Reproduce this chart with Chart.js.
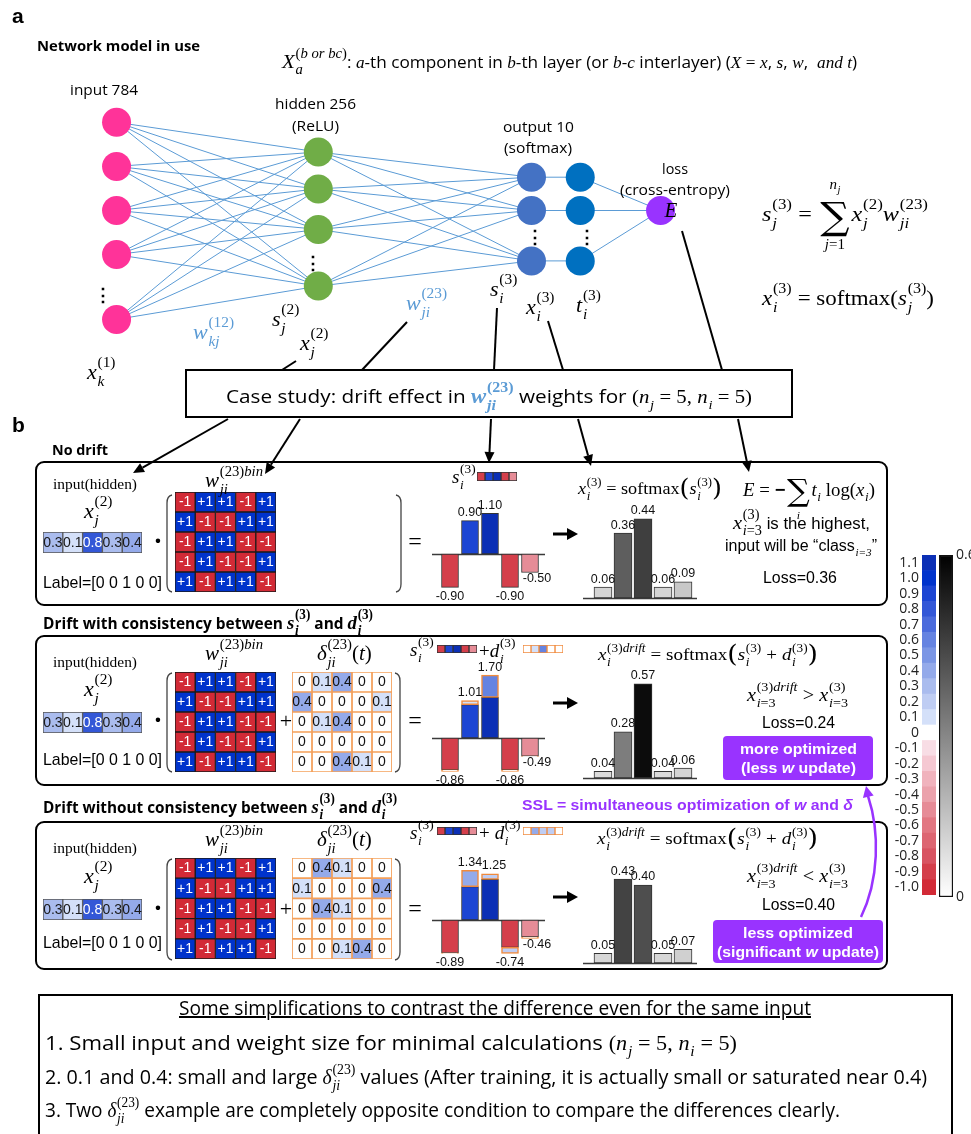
<!DOCTYPE html>
<html>
<head>
<meta charset="utf-8">
<title>Drift effect in w(23) weights</title>
<script src="https://cdn.jsdelivr.net/npm/chart.js@4.4.1/dist/chart.umd.min.js"></script>
<style>
  html, body { margin:0; padding:0; background:#fff; }
  #page { position:relative; width:971px; height:1134px; overflow:hidden; background:#fff; }
  canvas { position:absolute; }
  .box { position:absolute; box-sizing:border-box; border:2px solid #000; }
  .panel { border-radius:9px; }
  .badge { position:absolute; background:#9933ff; border-radius:4px; }
  .t { position:absolute; white-space:nowrap; line-height:1.2; color:#000; font-family:'Open Sans',sans-serif; }
  .sans { font-family:'Liberation Sans',Arial,sans-serif; }
  .serif { font-family:'Liberation Serif','DejaVu Serif',serif; }
  .mi { font-family:'Liberation Serif','DejaVu Serif',serif; font-style:italic; }
  .mr { font-family:'Liberation Serif','DejaVu Serif',serif; font-style:normal; }
  .big { font-size:122%; }
  .mid { font-size:110%; }
  .ss { display:inline-block; font-size:70%; line-height:0; vertical-align:baseline; margin-left:0.05em; }
  .ss > span { display:block; position:relative; white-space:nowrap; }
  .ss > .sp { top:-0.74em; }
  .ss > .sb { top:0.45em; }
  .op { display:inline-block; line-height:0; text-align:center; margin:0 0.08em; }
  .op > span { display:block; position:relative; white-space:nowrap; }
  .op > .sig { font-size:170%; top:-0.03em; font-family:'DejaVu Serif',serif; font-style:normal; }
  .op > .lt { font-size:62%; top:-2.25em; }
  .op > .lb { font-size:62%; top:2.05em; }
  .bp { font-size:140%; line-height:0; position:relative; top:0.06em; font-family:'DejaVu Serif',serif; }
  svg { position:absolute; left:0; top:0; }
</style>
</head>
<body>
<div id="page"></div>
<script>
// ---------------- values ----------------
const hiddenInput = [0.3, 0.1, 0.8, 0.3, 0.4];
const classLabel = [0, 0, 1, 0, 0];
const weightsBin = [
  [-1,  1,  1, -1,  1],
  [ 1, -1, -1,  1,  1],
  [-1,  1,  1, -1, -1],
  [-1,  1, -1, -1,  1],
  [ 1, -1,  1,  1, -1]
];
const driftConsistent = [
  [0,   0.1, 0.4, 0,   0  ],
  [0.4, 0,   0,   0,   0.1],
  [0,   0.1, 0.4, 0,   0  ],
  [0,   0,   0,   0,   0  ],
  [0,   0,   0.4, 0.1, 0  ]
];
const driftInconsistent = [
  [0,   0.4, 0.1, 0,   0  ],
  [0.1, 0,   0,   0,   0.4],
  [0,   0.4, 0.1, 0,   0  ],
  [0,   0,   0,   0,   0  ],
  [0,   0,   0.1, 0.4, 0  ]
];
const sNoDrift = [-0.90, 0.90, 1.10, -0.90, -0.50];
const dConsistent = [0.04, 0.11, 0.60, 0.04, 0.01];
const sdConsistent = [-0.86, 1.01, 1.70, -0.86, -0.49];
const dInconsistent = [0.01, 0.44, 0.15, 0.16, 0.04];
const sdInconsistent = [-0.89, 1.34, 1.25, -0.74, -0.46];
const softNoDrift = [0.06, 0.36, 0.44, 0.06, 0.09];
const softConsistent = [0.04, 0.28, 0.57, 0.04, 0.06];
const softInconsistent = [0.05, 0.43, 0.40, 0.05, 0.07];
const lossNoDrift = 0.36, lossConsistent = 0.24, lossInconsistent = 0.40;
const scaleTicks = ['1.1','1.0','0.9','0.8','0.7','0.6','0.5','0.4','0.3','0.2','0.1','0',
                    '-0.1','-0.2','-0.3','-0.4','-0.5','-0.6','-0.7','-0.8','-0.9','-1.0'];
const scaleColors = ['#0b2fb5','#0033cc','#1c45d3','#3357d7','#4b6bdc','#6583e1','#7b96e5','#94aaea',
                     '#aabcee','#bfcdf3','#d4e0f9','#ffffff','#f8dde5','#f5c8d2','#f0b3bd','#eba2ac',
                     '#e68c97','#e27782','#dd6672','#d85462','#d43f4b','#d22a36'];
const probTicks = [0, 0.6];

// network layout: layer columns and node rows (diagram units)
const layerCol = [104, 315, 538, 589, 673];
const nodeRows = [[112, 161, 210, 259, 331], [145, 186, 231, 294], [173, 210, 266], [173, 210, 266], [210]];
const layerColors = ['#ff3399', '#70ad47', '#4472c4', '#0070c0', '#9933ff'];

// ---------------- helpers ----------------
Chart.defaults.animation = false;
Chart.defaults.responsive = false;
Chart.defaults.maintainAspectRatio = false;
Chart.defaults.events = [];
Chart.defaults.plugins.legend.display = false;
Chart.defaults.plugins.tooltip.enabled = false;
Chart.defaults.font.family = "'Liberation Sans', Arial, sans-serif";

const page = document.getElementById('page');

function colorFor(v) {
  const idx = Math.min(21, Math.max(0, 11 - Math.round(v * 10)));
  return scaleColors[idx];
}
function gray(v) {
  const g = Math.round(235 * (1 - v / 0.6));
  return `rgb(${g},${g},${g})`;
}
function makeCanvas(x, y, w, h) {
  const c = document.createElement('canvas');
  c.width = w; c.height = h;
  c.style.left = x + 'px'; c.style.top = y + 'px';
  c.style.width = w + 'px'; c.style.height = h + 'px';
  page.appendChild(c);
  return c;
}
function div(cls, x, y, w, h) {
  const d = document.createElement('div');
  d.className = cls;
  Object.assign(d.style, {left: x + 'px', top: y + 'px', width: w + 'px', height: h + 'px'});
  page.appendChild(d);
  return d;
}
// value range of an axis given the pixel extent of the canvas and a reference pixel
function hRange(lo, hi, p0, k) { return {min: (lo - p0) / k, max: (hi - p0) / k}; }
function vRange(top, bottom, zeroPx, k) { return {min: (zeroPx - bottom) / k, max: (zeroPx - top) / k}; }

// heat-map cells: stacked horizontal bars, one dataset per column
function cellText(values, o) {
  return { id: 'cellText', afterDatasetsDraw(chart) {
    const ctx = chart.ctx;
    ctx.save();
    ctx.font = o.font || '14px "Liberation Sans", Arial, sans-serif';
    ctx.textAlign = 'center'; ctx.textBaseline = 'middle';
    chart.data.datasets.forEach((ds, c) => {
      chart.getDatasetMeta(c).data.forEach((bar, r) => {
        const v = values[r][c];
        ctx.fillStyle = o.textColor(v);
        ctx.fillText(o.text(v), (bar.x + bar.base) / 2, bar.y + 0.5);
      });
    });
    ctx.restore();
  }};
}
function gridChart(x, y, w, h, values, o) {
  const cols = values[0].length;
  const datasets = [];
  for (let c = 0; c < cols; c++) {
    datasets.push({
      data: values.map(() => 1),
      backgroundColor: values.map(r => o.fill(r[c])),
      borderColor: o.border, borderWidth: o.bw, borderSkipped: false,
      barPercentage: 1, categoryPercentage: 1
    });
  }
  return new Chart(makeCanvas(x, y, w, h), {
    type: 'bar',
    data: { labels: values.map((_, i) => 'r' + i), datasets },
    options: {
      indexAxis: 'y', layout: {padding: 0},
      scales: { x: {stacked: true, display: false, min: 0, max: cols},
                y: {stacked: true, display: false} }
    },
    plugins: o.text ? [cellText(values, o)] : []
  });
}
function baseLine(from, to) {
  return { id: 'baseLine', beforeDatasetsDraw(chart) {
    const {ctx, scales: {x, y}} = chart;
    const py = Math.round(y.getPixelForValue(0)) + 0.5;
    ctx.save();
    ctx.strokeStyle = '#3a3a3a'; ctx.lineWidth = 1.5;
    ctx.beginPath(); ctx.moveTo(x.getPixelForValue(from), py); ctx.lineTo(x.getPixelForValue(to), py); ctx.stroke();
    ctx.restore();
  }};
}
function valueLabels(values, endOf, place) {
  return { id: 'valueLabels', afterDatasetsDraw(chart) {
    const {ctx, scales: {x, y}} = chart;
    ctx.save();
    ctx.font = '12.5px "Liberation Sans", Arial, sans-serif';
    ctx.fillStyle = '#111'; ctx.textAlign = 'center'; ctx.textBaseline = 'middle';
    values.forEach((v, i) => {
      const [pos, dx, dy] = place[i];
      const px = x.getPixelForValue(i) + dx;
      const e = y.getPixelForValue(endOf(i));
      const py = pos === 'above' ? e - 8 + dy : e + 9 + dy;
      ctx.fillText(v.toFixed(2), px, py);
    });
    ctx.restore();
  }};
}
// s (and s + d) bars: base bar coloured by s, drift segment coloured by d
function sumChart(box, s, total, d, place, zeroPx, k) {
  const tot = total || s;
  const baseEnd = tot.map((t, i) => Math.abs(s[i]) < Math.abs(t) ? s[i] : t);
  const datasets = [{
    data: tot.map((t, i) => ({x: i, y: [0, baseEnd[i]]})),
    backgroundColor: s.map(colorFor), borderColor: '#333', borderWidth: 1, borderSkipped: false,
    barThickness: 17, grouped: false, order: 2
  }];
  if (d) datasets.push({
    data: tot.map((t, i) => ({x: i, y: [s[i], t]})),
    backgroundColor: d.map(colorFor), borderColor: '#f08a3c', borderWidth: 1.5, borderSkipped: false,
    barThickness: 17, grouped: false, order: 1
  });
  const xr = hRange(box.x, box.x + box.w, 450, 20);
  const yr = vRange(box.y, box.y + box.h, zeroPx, k);
  return new Chart(makeCanvas(box.x, box.y, box.w, box.h), {
    type: 'bar', data: {datasets},
    options: { layout: {padding: 0}, scales: {
      x: {type: 'linear', display: false, min: xr.min, max: xr.max, offset: false},
      y: {display: false, min: yr.min, max: yr.max} } },
    plugins: [baseLine(-0.9, 4.75),
              valueLabels(tot, i => tot[i] < 0 ? Math.min(s[i], tot[i]) : Math.max(s[i], tot[i]), place)]
  });
}
// softmax output bars
function softChart(box, p, zeroPx, k) {
  const xr = hRange(box.x, box.x + box.w, 603, 20);
  const yr = vRange(box.y, box.y + box.h, zeroPx, k);
  return new Chart(makeCanvas(box.x, box.y, box.w, box.h), {
    type: 'bar',
    data: { datasets: [{ data: p.map((v, i) => ({x: i, y: v})), backgroundColor: p.map(gray),
      borderColor: '#333', borderWidth: 1, borderSkipped: false, barThickness: 18 }] },
    options: { layout: {padding: 0}, scales: {
      x: {type: 'linear', display: false, min: xr.min, max: xr.max, offset: false},
      y: {display: false, min: yr.min, max: yr.max} } },
    plugins: [baseLine(-1.0, 4.7), valueLabels(p, i => p[i], p.map(() => ['above', 0, 0]))]
  });
}

// ---------------- frames ----------------
div('box', 185, 369, 608, 49);
div('box panel', 35, 461, 853, 145);
div('box panel', 35, 635, 853, 151);
div('box panel', 35, 821, 853, 149);
div('box', 38, 994, 915, 170);
div('badge', 723, 736, 150, 44);
div('badge', 713, 920, 170, 43);

// ---------------- network ----------------
(function () {
  const datasets = [];
  layerCol.forEach((cx, l) => {
    datasets.push({ data: nodeRows[l].map(y => ({x: cx, y})), pointRadius: 14.5, pointBackgroundColor: layerColors[l],
      pointBorderWidth: 0, showLine: false, order: 0 });
  });
  const edge = (a, b) => datasets.push({ data: [a, b], showLine: true, pointRadius: 0,
    borderColor: '#5b9bd5', borderWidth: 1, order: 1 });
  const pt = (l, r) => ({x: layerCol[l], y: nodeRows[l][r]});
  [[0, 1], [1, 2]].forEach(([a, b]) => nodeRows[a].forEach((_, i) => nodeRows[b].forEach((_, j) => edge(pt(a, i), pt(b, j)))));
  nodeRows[2].forEach((_, i) => edge(pt(2, i), pt(3, i)));
  nodeRows[3].forEach((_, i) => edge(pt(3, i), pt(4, 0)));
  new Chart(makeCanvas(60, 70, 660, 290), {
    type: 'scatter', data: {datasets},
    options: { layout: {padding: 0}, scales: {
      x: {type: 'linear', display: false, min: 60, max: 720},
      y: {type: 'linear', display: false, min: 70, max: 360, reverse: true} } }
  });
})();

// ---------------- panel charts ----------------
const inputOpts = { fill: colorFor, border: '#555', bw: 1, text: v => v.toFixed(1),
  textColor: v => v > 0.6 ? '#ffffff' : '#1a1a1a' };
const weightOpts = { fill: colorFor, border: '#1a1a1a', bw: 1, text: v => v > 0 ? '+1' : '-1', textColor: () => '#ffffff' };
const driftOpts = { fill: colorFor, border: '#f4a05a', bw: 1.2, text: v => v === 0 ? '0' : v.toFixed(1), textColor: () => '#111' };
const stripS = { fill: colorFor, border: '#333', bw: 1 };
const stripD = { fill: colorFor, border: '#f08a3c', bw: 1 };

// no drift
gridChart(43, 532, 99, 21, [hiddenInput], inputOpts);
gridChart(175, 492, 101, 100, weightsBin, weightOpts);
gridChart(477, 472, 40, 9, [sNoDrift], stripS);
sumChart({x: 425, y: 490, w: 130, h: 116}, sNoDrift, null, null,
  [['below', 0, 0], ['above', 0, 0], ['above', 0, 0], ['below', 0, 0], ['below', 7, -3]], 554, 37);
softChart({x: 575, y: 500, w: 130, h: 106}, softNoDrift, 598, 180);

// drift with consistency
gridChart(43, 712, 99, 21, [hiddenInput], inputOpts);
gridChart(175, 672, 101, 100, weightsBin, weightOpts);
gridChart(292, 672, 100, 100, driftConsistent, driftOpts);
gridChart(437, 645, 40, 8, [sNoDrift], stripS);
gridChart(523, 645, 40, 8, [dConsistent], stripD);
sumChart({x: 425, y: 655, w: 130, h: 133}, sNoDrift, sdConsistent, dConsistent,
  [['below', 0, 0], ['above', 0, 0], ['above', 0, 0], ['below', 0, 0], ['below', 7, -3]], 738, 37);
softChart({x: 575, y: 665, w: 130, h: 118}, softConsistent, 778, 165);

// drift without consistency
gridChart(43, 899, 99, 21, [hiddenInput], inputOpts);
gridChart(175, 858, 101, 101, weightsBin, weightOpts);
gridChart(292, 858, 100, 101, driftInconsistent, driftOpts);
gridChart(437, 827, 40, 8, [sNoDrift], stripS);
gridChart(523, 827, 40, 8, [dInconsistent], stripD);
sumChart({x: 425, y: 845, w: 130, h: 125}, sNoDrift, sdInconsistent, dInconsistent,
  [['below', 0, 0], ['above', 0, 0], ['above', 4, 0], ['below', 0, 0], ['below', 7, -3]], 920, 37);
softChart({x: 575, y: 855, w: 130, h: 112}, softInconsistent, 963, 195);

// ---------------- colour bars ----------------
new Chart(makeCanvas(880, 555, 56, 340), {
  type: 'bar',
  data: { labels: scaleTicks, datasets: [{ data: scaleTicks.map(() => 1), backgroundColor: scaleColors,
    borderWidth: 0, barPercentage: 1, categoryPercentage: 1 }] },
  options: { indexAxis: 'y', layout: {padding: 0}, scales: {
    x: {display: false, min: 0, max: 1},
    y: { position: 'left', grid: {display: false, drawTicks: false}, border: {display: false},
         ticks: {autoSkip: false, padding: 3, color: '#222', font: {family: "'Open Sans'", size: 14}},
         afterFit(s) { s.width = 42; s.paddingTop = 0; s.paddingBottom = 0; } } } }
});
new Chart(makeCanvas(939, 548, 32, 356), {
  type: 'bar',
  data: { labels: [''], datasets: [{ data: [probTicks[1]], borderColor: '#111', borderWidth: 1.5, borderSkipped: false,
    barPercentage: 1, categoryPercentage: 1,
    backgroundColor(ctx) {
      const ca = ctx.chart.chartArea;
      if (!ca) return '#888';
      const g = ctx.chart.ctx.createLinearGradient(0, ca.bottom, 0, ca.top);
      g.addColorStop(0, '#ffffff'); g.addColorStop(1, '#000000');
      return g;
    } }] },
  options: { layout: {padding: {top: 7, bottom: 7, left: 0, right: 0}}, scales: {
    x: {display: false},
    y: { position: 'right', min: probTicks[0], max: probTicks[1], grid: {display: false, drawTicks: false}, border: {display: false},
         afterBuildTicks(s) { s.ticks = probTicks.map(v => ({value: v})); },
         ticks: {padding: 3, color: '#222', font: {family: "'Open Sans'", size: 14}, callback: v => v === 0 ? '0' : v.toFixed(1)},
         afterFit(s) { s.width = 18; s.paddingTop = 0; s.paddingBottom = 0; } } } }
});

// ---------------- leader lines, arrows, brackets ----------------
function arrow(x1, y1, x2, y2, w, hl, hw, color) {
  const dx = x2 - x1, dy = y2 - y1, L = Math.hypot(dx, dy), ux = dx / L, uy = dy / L;
  const bx = x2 - ux * hl, by = y2 - uy * hl, px = -uy * hw / 2, py = ux * hw / 2;
  return `<line x1="${x1}" y1="${y1}" x2="${bx}" y2="${by}" stroke="${color}" stroke-width="${w}"/>` +
         `<polygon points="${x2},${y2} ${bx + px},${by + py} ${bx - px},${by - py}" fill="${color}"/>`;
}
function parens(xl, xr, y1, y2) {
  const st = 'fill="none" stroke="#444" stroke-width="1.3"';
  return `<path ${st} d="M${xl + 5},${y1} Q${xl},${y1 + 1} ${xl},${y1 + 8} L${xl},${y2 - 8} Q${xl},${y2 - 1} ${xl + 5},${y2}"/>` +
         `<path ${st} d="M${xr - 5},${y1} Q${xr},${y1 + 1} ${xr},${y1 + 8} L${xr},${y2 - 8} Q${xr},${y2 - 1} ${xr - 5},${y2}"/>`;
}
let svg = '';
[[296, 361, 282, 370], [407, 322, 362, 370], [497, 308, 494, 370], [548, 321, 563, 370], [682, 231, 722, 370]]
  .forEach(([a, b, c, d]) => { svg += `<line x1="${a}" y1="${b}" x2="${c}" y2="${d}" stroke="#000" stroke-width="2"/>`; });
[[228, 419, 133, 473], [300, 419, 265, 474], [491, 419, 489, 463], [578, 419, 591, 466], [738, 419, 749, 472]]
  .forEach(([a, b, c, d]) => { svg += arrow(a, b, c, d, 2, 11, 10, '#000'); });
[534, 703, 897].forEach(y => { svg += arrow(553, y, 578, y, 3, 11, 12, '#000'); });
svg += parens(167, 401, 495, 592) + parens(167, 400, 673, 772) + parens(167, 400, 859, 960);
svg += `<path d="M861,917 C879,880 880,832 868,796" fill="none" stroke="#9933ff" stroke-width="2.5"/>`;
svg += arrow(869, 800, 866, 786, 0.1, 11, 11, '#9933ff');
page.insertAdjacentHTML('beforeend', `<svg width="971" height="1134" viewBox="0 0 971 1134">${svg}</svg>`);

// ---------------- text ----------------
const I = s => `<span class="mi">${s}</span>`;
const R = s => `<span class="mr">${s}</span>`;
const SS = (sup, sub) => `<span class="ss"><span class="sp mr">${sup}</span><span class="sb mi">${sub}</span></span>`;
const V = (base, sup, sub) => I(base) + SS(sup, sub);
const SUM = (top, bot) => `<span class="op"><span class="lt mi">${top}</span><span class="sig">∑</span><span class="lb mi">${bot}</span></span>`;
const BIG = s => `<span class="big">${s}</span>`;

function T(x, y, html, o = {}) {
  const el = document.createElement('div');
  el.className = 't ' + (o.cls || '');
  el.innerHTML = html;
  el.dataset.x = x; el.dataset.y = y; el.dataset.a = o.a || 'l';
  if (o.w) el.dataset.w = o.w;
  if (o.fs) el.style.fontSize = o.fs + 'px';
  if (o.color) el.style.color = o.color;
  if (o.bold) el.style.fontWeight = 'bold';
  page.appendChild(el);
  return el;
}

T(12, 16, 'a', {cls: 'sans', fs: 21, bold: true});
T(37, 45, 'Network model in use', {fs: 15, bold: true, w: 163});
T(282, 61, `${BIG(V('X', '(<i>b or bc</i>)', 'a'))}: ${I('a')}-th component in ${I('b')}-th layer (or ${I('b')}-${I('c')} interlayer) (${I('X')} ${R('=')} ${I('x')}, ${I('s')}, ${I('w')},&nbsp; ${I('and t')})`, {fs: 16, w: 575});

T(104, 89, 'input 784', {a: 'c', fs: 15, w: 68});
T(315, 103, 'hidden 256', {a: 'c', fs: 15, w: 81});
T(315, 125, '(ReLU)', {a: 'c', fs: 15, w: 47});
T(538, 126, 'output 10', {a: 'c', fs: 15, w: 71});
T(538, 147, '(softmax)', {a: 'c', fs: 15, w: 68});
T(675, 168, 'loss', {a: 'c', fs: 15, w: 26});
T(675, 189, '(cross-entropy)', {a: 'c', fs: 15, w: 110});
T(671, 210, I('E'), {a: 'c', fs: 21});
[[103, 296], [313, 264], [535, 238], [587, 238]].forEach(([x, y]) => T(x, y, '⋮', {a: 'c', fs: 18, cls: 'sans', bold: true}));

T(87, 371, V('x', '(1)', 'k'), {fs: 22});
T(193, 331, V('w', '(12)', 'kj'), {fs: 22, color: '#5b9bd5'});
T(272, 318, V('s', '(2)', 'j'), {fs: 22});
T(300, 342, V('x', '(2)', 'j'), {fs: 22});
T(406, 302, V('w', '(23)', 'ji'), {fs: 22, color: '#5b9bd5'});
T(490, 288, V('s', '(3)', 'i'), {fs: 22});
T(526, 306, V('x', '(3)', 'i'), {fs: 22});
T(576, 304, V('t', '(3)', 'i'), {fs: 22});

T(762, 213, `${V('s', '(3)', 'j')} ${R('=')} ${SUM(I('n') + SS('', 'j'), 'j' + R('=1'))}${V('x', '(2)', 'j')}${V('w', '(23)', 'ji')}`, {fs: 22, w: 166});
T(762, 297, `${V('x', '(3)', 'i')} ${R('= softmax(')}${V('s', '(3)', 'j')}${R(')')}`, {fs: 22, w: 172});

T(489, 396, `Case study: drift effect in <span class="mid" style="color:#5b9bd5;font-weight:bold">${V('w', '(23)', 'ji')}</span> weights for ${R('(')}${I('n')}${SS('', 'j')} ${R('= 5,')} ${I('n')}${SS('', 'i')} ${R('= 5)')}`, {a: 'c', fs: 19, w: 526});

T(12, 425, 'b', {cls: 'sans', fs: 21, bold: true});

// panel titles
T(52, 449, 'No drift', {fs: 15, bold: true, w: 56});
T(43, 622, `Drift with consistency between ${BIG(V('s', '(3)', 'i'))} and ${BIG(V('d', '(3)', 'i'))}`, {fs: 16, bold: true, w: 330});
T(43, 806, `Drift without consistency between ${BIG(V('s', '(3)', 'i'))} and ${BIG(V('d', '(3)', 'i'))}`, {fs: 16, bold: true, w: 354});

// shared left part of each panel
const labelText = 'Label=[' + classLabel.join(' ') + ']';
[[484, 510, 583, 541, 480], [662, 688, 760, 720, 653], [848, 875, 943, 908, 839]].forEach(([yIn, yX, yLab, yMid, yW]) => {
  T(95, yIn, 'input(hidden)', {a: 'c', cls: 'serif', fs: 15, w: 84});
  T(84, yX, V('x', '(2)', 'j'), {fs: 22});
  T(43, yLab, labelText, {cls: 'sans', fs: 17, w: 119});
  T(158, yMid, '·', {a: 'c', fs: 26, bold: true});
  T(415, yMid, R('='), {a: 'c', fs: 24});
  T(205, yW, V('w', '(23)<i>bin</i>', 'ji'), {fs: 21});
});
[[653, 720], [839, 908]].forEach(([yD, yMid]) => {
  T(317, yD, `${V('δ', '(23)', 'ji')}${R('(')}${I('t')}${R(')')}`, {fs: 21});
  T(286, yMid, R('+'), {a: 'c', fs: 22});
});

// no drift, right part
T(452, 477, V('s', '(3)', 'i'), {fs: 19});
T(578, 489, `${V('x', '(3)', 'i')} ${R('= softmax')}<span class="bp">(</span>${V('s', '(3)', 'i')}<span class="bp">)</span>`, {fs: 17, w: 144});
T(743, 490, `${I('E')} ${R('=')} <b>−</b>${SUM('&nbsp;', 'i')}${I('t')}${SS('', 'i')} ${R('log(')}${I('x')}${SS('', 'i')}${R(')')}`, {fs: 18, w: 132});
T(733, 523, `${BIG(V('x', '(3)', 'i' + R('=3')))} is the highest,`, {cls: 'sans', fs: 16, w: 137});
T(725, 546, `input will be “class${SS('', 'i=3')}”`, {cls: 'sans', fs: 16, w: 152});
T(800, 578, `Loss=${lossNoDrift.toFixed(2)}`, {a: 'c', cls: 'sans', fs: 17, w: 74});

// drift panels, right part
const driftFormula = `${V('x', '(3)<i>drift</i>', 'i')} ${R('= softmax')}<span class="bp">(</span>${V('s', '(3)', 'i')} ${R('+')} ${V('d', '(3)', 'i')}<span class="bp">)</span>`;
const cmp = op => `${V('x', '(3)<i>drift</i>', 'i' + R('=3'))} ${R(op)} ${V('x', '(3)', 'i' + R('=3'))}`;

T(410, 650, V('s', '(3)', 'i'), {fs: 19});
T(479, 651, `${R('+')}${V('d', '(3)', 'i')}`, {fs: 19});
T(598, 655, driftFormula, {fs: 17, w: 220});
T(747, 695, cmp('&gt;'), {fs: 19, w: 101});
T(798, 723, `Loss=${lossConsistent.toFixed(2)}`, {a: 'c', cls: 'sans', fs: 17, w: 73});
T(798, 749, 'more optimized', {a: 'c', cls: 'sans', fs: 15, bold: true, color: '#fff', w: 117});
T(798, 768, '(less <i>w</i> update)', {a: 'c', cls: 'sans', fs: 15, bold: true, color: '#fff', w: 115});

T(410, 833, V('s', '(3)', 'i'), {fs: 19});
T(479, 833, `${R('+')} ${V('d', '(3)', 'i')}`, {fs: 19});
T(597, 839, driftFormula, {fs: 17, w: 221});
T(747, 876, cmp('&lt;'), {fs: 19, w: 101});
T(798, 905, `Loss=${lossInconsistent.toFixed(2)}`, {a: 'c', cls: 'sans', fs: 17, w: 73});
T(798, 933, 'less optimized', {a: 'c', cls: 'sans', fs: 15, bold: true, color: '#fff', w: 110});
T(798, 952, '(significant <i>w</i> update)', {a: 'c', cls: 'sans', fs: 15, bold: true, color: '#fff', w: 162});
T(522, 805, 'SSL = simultaneous optimization of <i>w</i> and <i>δ</i>', {cls: 'sans', fs: 15, bold: true, color: '#9933ff', w: 331});

// notes box
T(495, 1008, '<u>Some simplifications to contrast the difference even for the same input</u>', {a: 'c', fs: 20, w: 632});
T(45, 1043, `1. Small input and weight size for minimal calculations ${R('(')}${I('n')}${SS('', 'j')} ${R('= 5,')} ${I('n')}${SS('', 'i')} ${R('= 5)')}`, {fs: 20, w: 692});
T(45, 1077, `2. 0.1 and 0.4: small and large ${V('δ', '(23)', 'ji')} values (After training, it is actually small or saturated near 0.4)`, {fs: 20, w: 882});
T(45, 1110, `3. Two ${V('δ', '(23)', 'ji')} example are completely opposite condition to compare the differences clearly.`, {fs: 20, w: 795});

function placeTexts() {
  page.querySelectorAll('.t').forEach(el => {
    el.style.transform = 'none'; el.style.left = '0px'; el.style.top = '0px';
    const r = el.getBoundingClientRect();
    const w0 = r.width, h0 = r.height;
    const tw = el.dataset.w ? +el.dataset.w : w0;
    const a = el.dataset.a, x = +el.dataset.x, y = +el.dataset.y;
    const left = a === 'c' ? x - tw / 2 : a === 'r' ? x - tw : x;
    el.style.left = left + 'px';
    el.style.top = (y - h0 / 2) + 'px';
    el.style.transformOrigin = '0 50%';
    el.style.transform = 'scaleX(' + (tw / w0) + ')';
  });
}
placeTexts();
if (document.fonts && document.fonts.ready) document.fonts.ready.then(placeTexts);
</script>
</body>
</html>
